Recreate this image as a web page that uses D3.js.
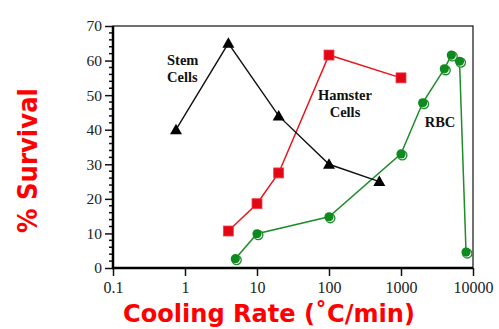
<!DOCTYPE html>
<html>
<head>
<meta charset="utf-8">
<script src="https://cdn.jsdelivr.net/npm/d3@7"></script>
<style>
  body { margin: 0; background: #fff; }
</style>
</head>
<body>
<div id="container"></div>
<script>
const stemCells = [
    {rate: 0.75, survival: 40},
    {rate: 4, survival: 65},
    {rate: 20, survival: 44},
    {rate: 100, survival: 30},
    {rate: 500, survival: 25}
];
const hamsterCells = [
    {rate: 4, survival: 10.7},
    {rate: 10, survival: 18.6},
    {rate: 20, survival: 27.5},
    {rate: 100, survival: 61.6},
    {rate: 1000, survival: 55}
];
const rbc = [
    {rate: 5, survival: 2.7},
    {rate: 10, survival: 9.9},
    {rate: 100, survival: 14.8},
    {rate: 1000, survival: 33},
    {rate: 2000, survival: 47.8},
    {rate: 4000, survival: 57.6},
    {rate: 5000, survival: 61.6},
    {rate: 6500, survival: 59.8},
    {rate: 8000, survival: 4.6}
];
const xTicks = [0.1, 1, 10, 100, 1000, 10000];
const yTicks = [0, 10, 20, 30, 40, 50, 60, 70];

const width = 499;
const height = 329;
const margin = {left: 113, right: 26, top: 26, bottom: 61};

const svg = d3.create('svg')
    .attr('width', width)
    .attr('height', height);

const x = d3.scaleLog()
    .domain([0.1, 10000])
    .range([margin.left, width - margin.right]);

const y = d3.scaleLinear()
    .domain([0, 70])
    .range([height - margin.bottom, margin.top]);

const tickFont = '"Liberation Serif", "Times New Roman", serif';
const titleFont = '"DejaVu Sans", Verdana, sans-serif';

// plot frame
svg.append('rect')
    .attr('x', margin.left)
    .attr('y', margin.top)
    .attr('width', x.range()[1] - margin.left)
    .attr('height', y.range()[0] - margin.top)
    .attr('fill', 'none')
    .attr('stroke', '#111')
    .attr('stroke-width', 1.2);

// y axis with minor ticks
const yAxis = svg.append('g')
    .attr('transform', `translate(${margin.left},0)`)
    .call(d3.axisLeft(y).tickValues(yTicks).tickSize(8).tickPadding(3).tickFormat(d3.format('d')));
yAxis.selectAll('.tick text')
    .attr('font-family', tickFont)
    .attr('font-size', '15.5px')
    .attr('fill', '#222');

svg.append('g')
    .selectAll('line')
    .data(d3.range(0, 70, 2).filter(v => v % 10 !== 0))
    .enter()
    .append('line')
    .attr('x1', margin.left - 4)
    .attr('x2', margin.left)
    .attr('y1', d => y(d))
    .attr('y2', d => y(d))
    .attr('stroke', '#111')
    .attr('stroke-width', 1.5);

// x axis
const xAxis = svg.append('g')
    .attr('transform', `translate(0,${y.range()[0]})`)
    .call(d3.axisBottom(x).tickValues(xTicks).tickSize(8).tickPadding(5.5).tickFormat(d => String(d)));
xAxis.selectAll('.tick text')
    .attr('font-family', tickFont)
    .attr('font-size', '16px')
    .attr('fill', '#222');

[yAxis, xAxis].forEach(axis => {
    axis.select('.domain').remove();
    axis.selectAll('.tick line').attr('stroke', '#111').attr('stroke-width', 1.5);
});

// thick left and bottom axis lines
svg.append('line')
    .attr('x1', margin.left).attr('x2', margin.left)
    .attr('y1', margin.top).attr('y2', y.range()[0] + 1)
    .attr('stroke', '#000').attr('stroke-width', 2.5);
svg.append('line')
    .attr('x1', margin.left - 1).attr('x2', x.range()[1])
    .attr('y1', y.range()[0]).attr('y2', y.range()[0])
    .attr('stroke', '#000').attr('stroke-width', 2.5);

const line = d3.line()
    .x(d => x(d.rate))
    .y(d => y(d.survival));

// RBC (green circles)
svg.append('path')
    .datum(rbc)
    .attr('d', line)
    .attr('fill', 'none')
    .attr('stroke', '#1e8c2a')
    .attr('stroke-width', 1.5);

const rbcMarks = svg.selectAll('g.rbc')
    .data(rbc)
    .enter()
    .append('g')
    .attr('class', 'rbc')
    .attr('transform', d => `translate(${x(d.rate)},${y(d.survival)})`);
rbcMarks.append('circle')
    .attr('cx', 1.3).attr('cy', 1.3).attr('r', 4.6)
    .attr('fill', '#fff')
    .attr('stroke', '#1e8c2a')
    .attr('stroke-width', 1.3);
rbcMarks.append('circle')
    .attr('r', 4.6)
    .attr('fill', '#0f8a1e');

// Hamster cells (red squares)
svg.append('path')
    .datum(hamsterCells)
    .attr('d', line)
    .attr('fill', 'none')
    .attr('stroke', '#e8141a')
    .attr('stroke-width', 1.5);

svg.selectAll('rect.hamster')
    .data(hamsterCells)
    .enter()
    .append('rect')
    .attr('class', 'hamster')
    .attr('x', d => x(d.rate) - 5)
    .attr('y', d => y(d.survival) - 5)
    .attr('width', 10)
    .attr('height', 10)
    .attr('fill', '#e30613')
    .attr('stroke', '#f04050')
    .attr('stroke-width', 0.8);

// Stem cells (black triangles)
svg.append('path')
    .datum(stemCells)
    .attr('d', line)
    .attr('fill', 'none')
    .attr('stroke', '#111')
    .attr('stroke-width', 1.4);

svg.selectAll('path.stem')
    .data(stemCells)
    .enter()
    .append('path')
    .attr('class', 'stem')
    .attr('transform', d => `translate(${x(d.rate)},${y(d.survival)})`)
    .attr('d', 'M0,-6L6,4.5L-6,4.5Z')
    .attr('fill', '#000');

// series labels
const labels = [
    {lines: ['Stem', 'Cells'], x: 167, y: 65, anchor: 'start'},
    {lines: ['Hamster', 'Cells'], x: 345, y: 100, anchor: 'middle'},
    {lines: ['RBC'], x: 440, y: 127, anchor: 'middle'}
];
labels.forEach(l => {
    const t = svg.append('text')
        .attr('x', l.x)
        .attr('y', l.y)
        .attr('text-anchor', l.anchor)
        .attr('font-family', tickFont)
        .attr('font-weight', 'bold')
        .attr('font-size', '14.5px')
        .attr('fill', '#111');
    l.lines.forEach((s, i) => {
        t.append('tspan')
            .attr('x', l.x)
            .attr('dy', i === 0 ? 0 : 16.5)
            .text(s);
    });
});

// axis titles
svg.append('text')
    .attr('x', 123)
    .attr('y', 322)
    .attr('font-family', titleFont)
    .attr('font-weight', 'bold')
    .attr('font-size', '24.5px')
    .attr('textLength', 292)
    .attr('lengthAdjust', 'spacingAndGlyphs')
    .attr('fill', '#ff0000')
    .text('Cooling Rate (˚C/min)');

svg.append('text')
    .attr('transform', 'translate(37,233) rotate(-90)')
    .attr('font-family', titleFont)
    .attr('font-weight', 'bold')
    .attr('font-size', '26px')
    .attr('textLength', 145)
    .attr('lengthAdjust', 'spacingAndGlyphs')
    .attr('fill', '#ff0000')
    .text('% Survival');

d3.select('#container').append(() => svg.node());
</script>
</body>
</html>
